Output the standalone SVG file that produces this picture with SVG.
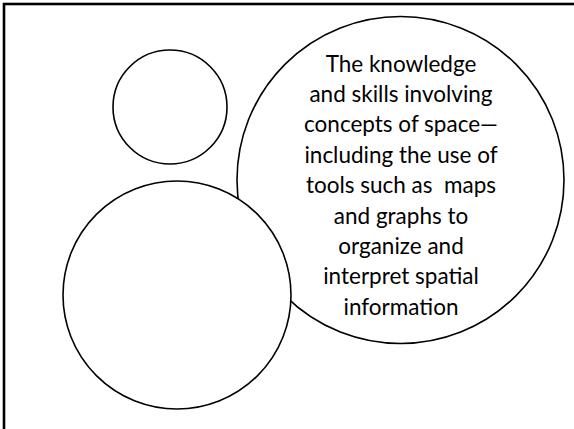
<svg xmlns="http://www.w3.org/2000/svg" width="574" height="429" viewBox="0 0 574 429">
<style>
.c{fill:#fff;stroke:#000;stroke-width:1.6}
.t{font-family:Lato,"Liberation Sans",sans-serif;font-size:22.5px;fill:#000;text-anchor:middle}
</style>
<rect x="0" y="0" width="574" height="429" fill="#fff"/>
<rect x="4" y="4" width="580" height="440" fill="none" stroke="#000" stroke-width="2.6"/>
<g id="node-definition">
<circle class="c" cx="400.5" cy="180" r="163.5"/>
<text class="t" xml:space="preserve"><tspan x="401" y="71.5">The knowledge</tspan><tspan x="401" y="101.9">and skills involving</tspan><tspan x="401" y="132.3">concepts of space—</tspan><tspan x="401" y="162.7">including the use of</tspan><tspan x="401" y="193.1">tools such as  maps</tspan><tspan x="401" y="223.5">and graphs to</tspan><tspan x="401" y="253.9">organize and</tspan><tspan x="401" y="284.3">interpret spatial</tspan><tspan x="401" y="314.7">information</tspan></text>
</g>
<g id="node-small">
<circle class="c" cx="170" cy="107" r="57"/>
</g>
<g id="node-large">
<circle class="c" cx="177" cy="295" r="114"/>
</g>
<g id="connectors"></g>
</svg>
